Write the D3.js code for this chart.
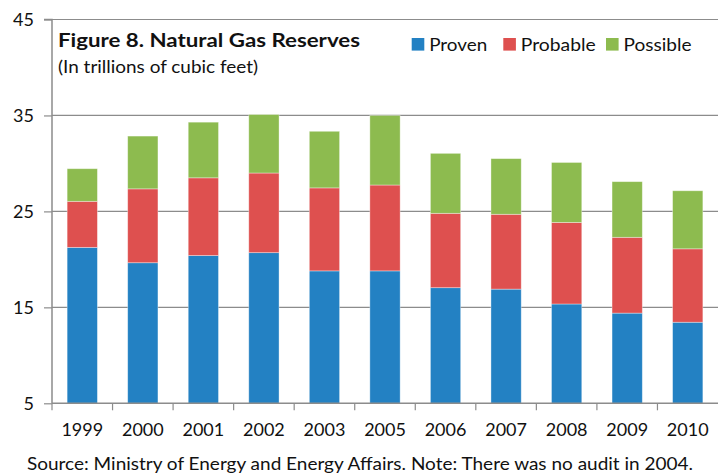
<!DOCTYPE html>
<html><head><meta charset="utf-8">
<script src="https://cdn.jsdelivr.net/npm/d3@7"></script>
<style>
body{margin:0;background:#fff;}
svg{display:block;font-family:Lato,"Open Sans",sans-serif;}
</style></head>
<body><svg id="c" width="718" height="475"></svg>
<script>
const years = ["1999","2000","2001","2002","2003","2005","2006","2007","2008","2009","2010"];
const proven   = [21.25,19.65,20.4,20.7,18.8,18.8,17.05,16.9,15.35,14.4,13.45];
const probable = [4.8,7.7,8.1,8.3,8.65,8.95,7.75,7.8,8.5,7.9,7.65];
const possible = [3.4,5.5,5.8,6.1,5.9,7.25,6.25,5.8,6.25,5.8,6.05];
const seriesNames = ["Proven","Probable","Possible"];
const colors = ["#2381C3","#DE504F","#8DBB4F"];
const yTicks = [5,15,25,35,45];

const svg = d3.select("#c");
const L=52, R=718, T=19.5, B=403.3;

const x = d3.scaleBand().domain(years).range([L,R]).paddingInner(0.5).paddingOuter(0.25);
const y = d3.scaleLinear().domain([5,45]).range([B,T]).clamp(true);

// gridlines
svg.append("g").selectAll("line").data(yTicks.slice(1)).join("line")
  .attr("x1",L).attr("x2",R).attr("y1",d=>y(d)).attr("y2",d=>y(d))
  .attr("stroke","#8c8c8c").attr("stroke-width",1.2);

const rows = years.map((yr,i)=>({year:yr,Proven:proven[i],Probable:probable[i],Possible:possible[i]}));
const stacked = d3.stack().keys(seriesNames)(rows);

svg.append("g").selectAll("g").data(stacked).join("g")
  .attr("fill",(d,i)=>colors[i])
  .selectAll("rect").data(d=>d).join("rect")
  .attr("x",d=>x(d.data.year)).attr("width",x.bandwidth())
  .attr("y",d=>y(d[1])).attr("height",d=>y(d[0])-y(d[1]))
  .attr("stroke","rgba(255,255,255,0.45)").attr("stroke-width",0.8);

// y axis
const ya = svg.append("g").attr("transform",`translate(${L},0)`)
  .call(d3.axisLeft(y).tickValues(yTicks).tickSize(8).tickPadding(10).tickFormat(d3.format("d")));
ya.select(".domain").attr("stroke","#8c8c8c").attr("stroke-width",1.5).attr("d",`M-8,${T}H0V${B}`);
ya.selectAll(".tick line").attr("stroke","#8c8c8c").attr("stroke-width",1.2);
ya.selectAll("text").attr("font-size",18).attr("fill","#111").attr("font-family","Lato");

// x axis
const xa = svg.append("g").attr("transform",`translate(0,${B})`)
  .call(d3.axisBottom(x).tickSize(0).tickPadding(20));
xa.select(".domain").attr("stroke","#8c8c8c").attr("stroke-width",1.5).attr("d",`M${L},0H${R}`);
xa.selectAll("text").attr("font-size",18).attr("fill","#111").attr("font-family","Lato");
// category boundary ticks
const bounds = years.map((d,i)=>L + i*(R-L)/years.length);
svg.append("g").selectAll("line").data(bounds).join("line")
  .attr("x1",d=>d).attr("x2",d=>d).attr("y1",B).attr("y2",B+7)
  .attr("stroke","#8c8c8c").attr("stroke-width",1.2);

// title
svg.append("text").attr("x",58).attr("y",47).attr("font-size",19).attr("font-weight","bold")
  .attr("fill","#111").attr("textLength",302).attr("lengthAdjust","spacingAndGlyphs")
  .text("Figure 8. Natural Gas Reserves");
svg.append("text").attr("x",58).attr("y",73).attr("font-size",17)
  .attr("fill","#111").attr("textLength",200).attr("lengthAdjust","spacingAndGlyphs")
  .text("(In trillions of cubic feet)");

// legend
const legX = [411.7,503.3,606];
const legW = [58,75,68];
const lg = svg.append("g");
seriesNames.forEach((n,i)=>{
  lg.append("rect").attr("x",legX[i]).attr("y",38).attr("width",12.6).attr("height",12.6).attr("fill",colors[i]);
  lg.append("text").attr("x",legX[i]+17.5).attr("y",50.5).attr("font-size",18).attr("fill","#111")
    .attr("textLength",legW[i]).attr("lengthAdjust","spacingAndGlyphs").text(n);
});

// source
svg.append("text").attr("x",27).attr("y",470).attr("font-size",17).attr("fill","#111")
  .attr("textLength",666).attr("lengthAdjust","spacingAndGlyphs")
  .text("Source: Ministry of Energy and Energy Affairs.  Note: There was no audit in 2004.");
</script></body></html>
